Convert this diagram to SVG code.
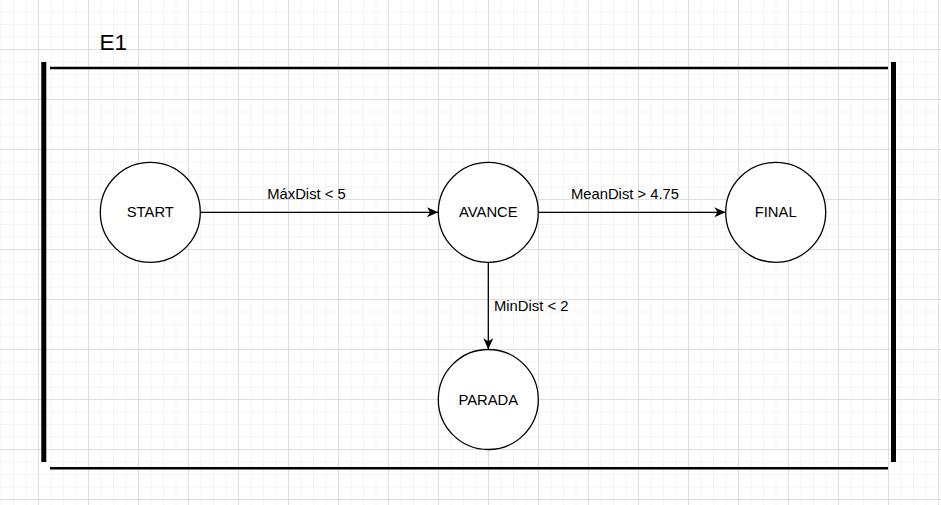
<svg xmlns="http://www.w3.org/2000/svg" width="941" height="505" viewBox="0 0 941 505">
<style>
.node circle{fill:#fff;stroke:#000;stroke-width:1.3}
.node text,.lbl{font-family:"Liberation Sans",Arial,sans-serif;font-size:14.8px;fill:#000}
.node text{text-anchor:middle;dominant-baseline:central}
.edge{stroke:#000;stroke-width:1.3;fill:none;marker-end:url(#arr)}
.frame{stroke:#000;fill:none}
</style>
<defs>
<pattern id="grid" patternUnits="userSpaceOnUse" x="38" y="49" width="50" height="50">
<path d="M13 0V50M25.5 0V50M38 0V50M0 13H50M0 25.5H50M0 38H50" stroke="#f3f3f3" stroke-width="1"/>
<path d="M0.5 0V50M0 0.5H50" stroke="#dedede" stroke-width="1"/>
</pattern>
<marker id="arr" markerUnits="userSpaceOnUse" markerWidth="14" markerHeight="12" viewBox="-12 -6 14 12" refX="0" refY="0" orient="auto">
<path d="M0,0 L-11,-5 L-8,0 L-11,5 Z" fill="#000"/>
</marker>
</defs>
<rect width="941" height="505" fill="#fff"/>
<rect width="941" height="505" fill="url(#grid)"/>
<g id="frame">
<text x="99.5" y="50" font-family="Liberation Sans, Arial, sans-serif" font-size="22.5" fill="#000">E1</text>
<line class="frame" x1="43.8" y1="62" x2="43.8" y2="462" stroke-width="5"/>
<line class="frame" x1="893.5" y1="62" x2="893.5" y2="462" stroke-width="5"/>
<line class="frame" x1="50" y1="68" x2="888" y2="68" stroke-width="2.6"/>
<line class="frame" x1="50" y1="468.3" x2="888" y2="468.3" stroke-width="2.6"/>
</g>
<g id="connectors">
<line class="edge" x1="200.3" y1="212.3" x2="438" y2="212.3"/>
<line class="edge" x1="538.3" y1="212.3" x2="725.4" y2="212.3"/>
<line class="edge" x1="488.3" y1="262.3" x2="488.3" y2="349.3"/>
<text class="lbl" x="306.5" y="198.5" text-anchor="middle">MáxDist &lt; 5</text>
<text class="lbl" x="625" y="198.5" text-anchor="middle">MeanDist &gt; 4.75</text>
<text class="lbl" x="494" y="311">MinDist &lt; 2</text>
</g>
<g id="start" class="node"><circle cx="150.3" cy="212.3" r="50"/><text x="150.3" y="212.3">START</text></g>
<g id="avance" class="node"><circle cx="488.3" cy="212.3" r="50"/><text x="488.3" y="212.3">AVANCE</text></g>
<g id="final" class="node"><circle cx="775.7" cy="212.3" r="50"/><text x="775.7" y="212.3">FINAL</text></g>
<g id="parada" class="node"><circle cx="488.3" cy="399.5" r="50"/><text x="488.3" y="399.5">PARADA</text></g>
</svg>
